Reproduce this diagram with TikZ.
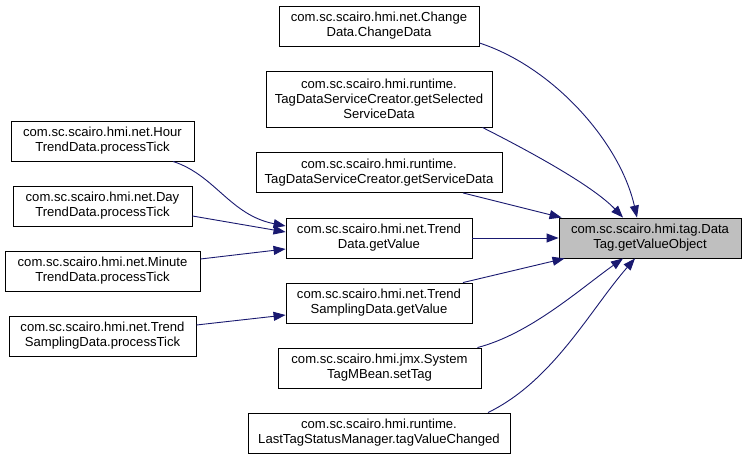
\documentclass[tikz,border=0pt]{standalone}
\usepackage{fontspec}
\setmainfont{Liberation Sans}
\usetikzlibrary{arrows.meta,calc}
\definecolor{edgeblue}{HTML}{191970}
\definecolor{mainfill}{HTML}{BFBFBF}
\tikzset{
  box/.style={draw=black, line width=0.9pt, fill=white, inner sep=0pt, align=center,
    font=\fontsize{13.1}{15}\selectfont},
  mainbox/.style={box, fill=mainfill},
  edge/.style={draw=edgeblue, line width=0.9pt, -{Triangle[length=12pt,width=9pt]}}
}
\begin{document}
\begin{tikzpicture}[x=1pt,y=-1pt]
\useasboundingbox[fill=white] (0,0) rectangle (747,460);
% right column
\node[box, minimum width=200pt, minimum height=40pt] (cd) at (379,26) {com.sc.scairo.hmi.net.Change\\Data.ChangeData};
\node[box, minimum width=226pt, minimum height=56pt] (sel) at (379,99) {com.sc.scairo.hmi.runtime.\\TagDataServiceCreator.getSelected\\ServiceData};
\node[box, minimum width=246pt, minimum height=40pt] (gsd) at (379,172.5) {com.sc.scairo.hmi.runtime.\\TagDataServiceCreator.getServiceData};
\node[box, minimum width=186pt, minimum height=40pt] (tdg) at (379,238) {com.sc.scairo.hmi.net.Trend\\Data.getValue};
\node[box, minimum width=186pt, minimum height=40pt] (tsg) at (379,303) {com.sc.scairo.hmi.net.Trend\\SamplingData.getValue};
\node[box, minimum width=203pt, minimum height=40pt] (sys) at (379.5,368) {com.sc.scairo.hmi.jmx.System\\TagMBean.setTag};
\node[box, minimum width=262pt, minimum height=40pt] (lt) at (379,433) {com.sc.scairo.hmi.runtime.\\LastTagStatusManager.tagValueChanged};
% target
\node[mainbox, minimum width=182pt, minimum height=40pt] (dt) at (650,238) {com.sc.scairo.hmi.tag.Data\\Tag.getValueObject};
% left column
\node[box, minimum width=183pt, minimum height=40pt] (hour) at (102.5,141) {com.sc.scairo.hmi.net.Hour\\TrendData.processTick};
\node[box, minimum width=179pt, minimum height=40pt] (day) at (102.5,206) {com.sc.scairo.hmi.net.Day\\TrendData.processTick};
\node[box, minimum width=195pt, minimum height=40pt] (min) at (102.5,271) {com.sc.scairo.hmi.net.Minute\\TrendData.processTick};
\node[box, minimum width=187pt, minimum height=40pt] (tsp) at (102.5,336) {com.sc.scairo.hmi.net.Trend\\SamplingData.processTick};
% edges to target
\draw[edge] ($(cd.east)+(0,17)$) .. controls (553,67) and (620,142) .. ($(dt.north)+(-13,0)$);
\draw[edge] ($(sel.south east)+(-10,0)$) .. controls (527,150) and (592,185) .. ($(dt.north)+(-27,0)$);
\draw[edge] ($(gsd.south)+(84,0)$) -- ($(dt.north west)+(3,0)$);
\draw[edge] (tdg.east) -- (dt.west);
\draw[edge] ($(tsg.north)+(84,0)$) -- ($(dt.south west)+(6,0)$);
\draw[edge] ($(sys.north east)+(-4,0)$) .. controls (530,334) and (580,289) .. ($(dt.south)+(-27,0)$);
\draw[edge] ($(lt.north)+(109,0)$) .. controls (553,381) and (590,310) .. ($(dt.south)+(-15,0)$);
% edges from left column
\draw[edge] ($(hour.south)+(70.5,0)$) .. controls (215,175) and (230,215) .. ($(tdg.west)+(0,-12)$);
\draw[edge] ($(day.east)+(0,10)$) -- ($(tdg.west)+(0,-6)$);
\draw[edge] ($(min.east)+(0,-12)$) -- ($(tdg.west)+(0,11)$);
\draw[edge] ($(tsp.east)+(0,-11)$) -- ($(tsg.west)+(0,12)$);
\end{tikzpicture}
\end{document}
